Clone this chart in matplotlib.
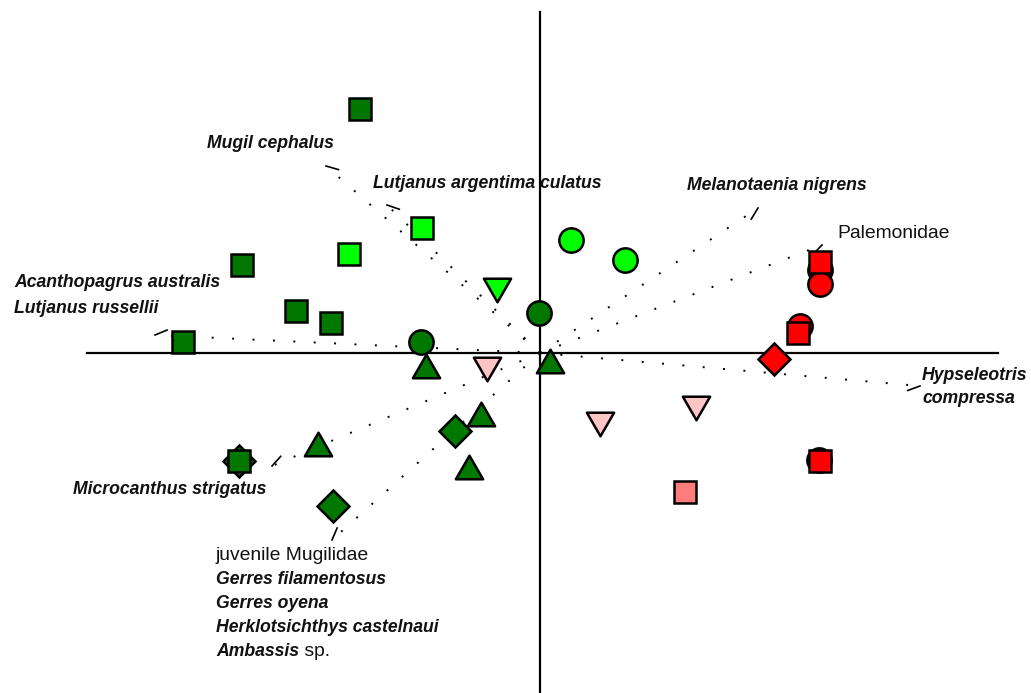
import matplotlib
matplotlib.use("Agg")
import matplotlib.pyplot as plt
from matplotlib.path import Path
import numpy as np

plt.rcParams['font.family'] = ['Liberation Sans', 'DejaVu Sans']

# ---- site scores (axis 1, axis 2) by group ----
dark_sq_x = [-1.80, -2.98, -2.44, -2.09, -3.57, -3.01]
dark_sq_y = [2.44, 0.88, 0.42, 0.30, 0.11, -1.08]
dark_di_x = [-3.01, -0.85, -2.07]
dark_di_y = [-1.08, -0.78, -1.53]
dark_ci_x = [-0.01, -1.19]
dark_ci_y = [0.40, 0.11]
dark_tr_x = [-1.14, 0.10, -0.59, -2.22, -0.71]
dark_tr_y = [-0.13, -0.08, -0.61, -0.91, -1.14]
light_sq_x = [-1.18, -1.91]
light_sq_y = [1.25, 0.99]
light_ci_x = [0.31, 0.85]
light_ci_y = [1.13, 0.93]
light_tv_x = [-0.43]
light_tv_y = [0.63]
pink_tv_x = [-0.53, 0.60, 1.56]
pink_tv_y = [-0.16, -0.71, -0.55]
salmon_sq_x = [1.45]
salmon_sq_y = [-1.39]
red_ci_x = [2.80, 2.80, 2.60, 2.79]
red_ci_y = [0.83, 0.69, 0.27, -1.07]
red_sq_x = [2.80, 2.58, 2.80]
red_sq_y = [0.91, 0.20, -1.08]
red_di_x = [2.34]
red_di_y = [-0.06]

# ---- species vectors ----
vec_names = ["Mugil", "Lutjanus arg", "Acanthopagrus", "Microcanthus",
             "juvenile", "Melanotaenia", "Palemonidae", "Hypseleotris"]
vec_x = [-2.14, -1.53, -3.85, -2.68, -2.08, 2.18, 2.82, 3.80]
vec_y = [1.87, 1.48, 0.18, -1.13, -1.87, 1.45, 1.08, -0.33]

DARK = '#007800'
LIGHT = '#00ff00'
PINK = '#ffc4c4'
SALMON = '#ff7c7c'
RED = '#ff0000'

fig = plt.figure(figsize=(10.31, 6.93), dpi=100)
ax = fig.add_axes([0, 0, 1, 1])
ax.set_xlim(-5.40, 4.91)
ax.set_ylim(-3.40, 3.53)
ax.axis('off')

# axes through the origin
ax.plot([-4.53, 4.58], [0, 0], color='black', lw=1.6, zorder=1)
ax.plot([0, 0], [-3.45, 3.41], color='black', lw=1.6, zorder=1)

# dotted vectors with a short stroke at the tip
for vx, vy in zip(vec_x, vec_y):
    ax.plot([0, vx], [0, vy], color='black', lw=1.4,
            linestyle=(0, (1, 9.5)), zorder=2)
    ang = np.arctan2(vy, vx) + np.pi + np.deg2rad(25)
    ax.plot([vx, vx + 0.13 * np.cos(ang)], [vy, vy + 0.13 * np.sin(ang)],
            color='black', lw=1.2, zorder=2)

tri_up = Path([(0, 0.433), (-0.5, -0.433), (0.5, -0.433), (0, 0.433)],
              [Path.MOVETO, Path.LINETO, Path.LINETO, Path.CLOSEPOLY])
tri_dn = Path([(0, -0.433), (-0.5, 0.433), (0.5, 0.433), (0, -0.433)],
              [Path.MOVETO, Path.LINETO, Path.LINETO, Path.CLOSEPOLY])

EW = 1.8
def pts(x, y, marker, ms, color, z):
    ax.plot(x, y, linestyle='none', marker=marker, ms=ms, mfc=color,
            mec='black', mew=EW, zorder=z)

SQ, CI, TR, DI = 16.0, 17.5, 19.6, 16.2
pts(dark_di_x, dark_di_y, 'D', DI, DARK, 3)
pts(red_di_x, red_di_y, 'D', DI, RED, 3)
pts(dark_ci_x, dark_ci_y, 'o', CI, DARK, 3)
pts(light_ci_x, light_ci_y, 'o', CI, LIGHT, 3)
pts(red_ci_x, red_ci_y, 'o', CI, RED, 3)
pts(dark_tr_x, dark_tr_y, tri_up, TR, DARK, 4)
pts(light_tv_x, light_tv_y, tri_dn, TR, LIGHT, 4)
pts(pink_tv_x, pink_tv_y, tri_dn, TR, PINK, 4)
pts(dark_sq_x, dark_sq_y, 's', SQ, DARK, 5)
pts(light_sq_x, light_sq_y, 's', SQ, LIGHT, 5)
pts(salmon_sq_x, salmon_sq_y, 's', SQ, SALMON, 5)
pts(red_sq_x, red_sq_y, 's', SQ, RED, 5)

bi = dict(fontsize=12.7, fontweight='bold', fontstyle='italic',
          ha='left', va='center', color='#111111')
rg = dict(fontsize=13.9, ha='left', va='center', color='#111111')

def px(x, y):
    return (x - 540) / 100.0, (353 - y) / 100.0

ax.text(*px(207, 144), "Mugil cephalus", **bi)
ax.text(*px(373, 184), "Lutjanus argentima culatus", **bi)
ax.text(*px(687, 186), "Melanotaenia nigrens", **bi)
ax.text(*px(837, 234), "Palemonidae", **rg)
ax.text(*px(14, 283), "Acanthopagrus australis", **bi)
ax.text(*px(14, 309), "Lutjanus russellii", **bi)
ax.text(*px(922, 376), "Hypseleotris", **bi)
ax.text(*px(922, 399), "compressa", **bi)
ax.text(*px(73, 490), "Microcanthus strigatus", **bi)
ax.text(*px(216, 555), "juvenile Mugilidae", **rg)
ax.text(*px(216, 579), "Gerres filamentosus", **bi)
ax.text(*px(216, 603), "Gerres oyena", **bi)
ax.text(*px(216, 627), "Herklotsichthys castelnaui", **bi)
amb = ax.text(*px(216, 651), "Ambassis", **bi)
ax.annotate(" sp.", xy=(1, 0.5), xycoords=amb, fontsize=13.9,
            ha='left', va='center', color='#111111')

fig.savefig("out.png", dpi=100)
